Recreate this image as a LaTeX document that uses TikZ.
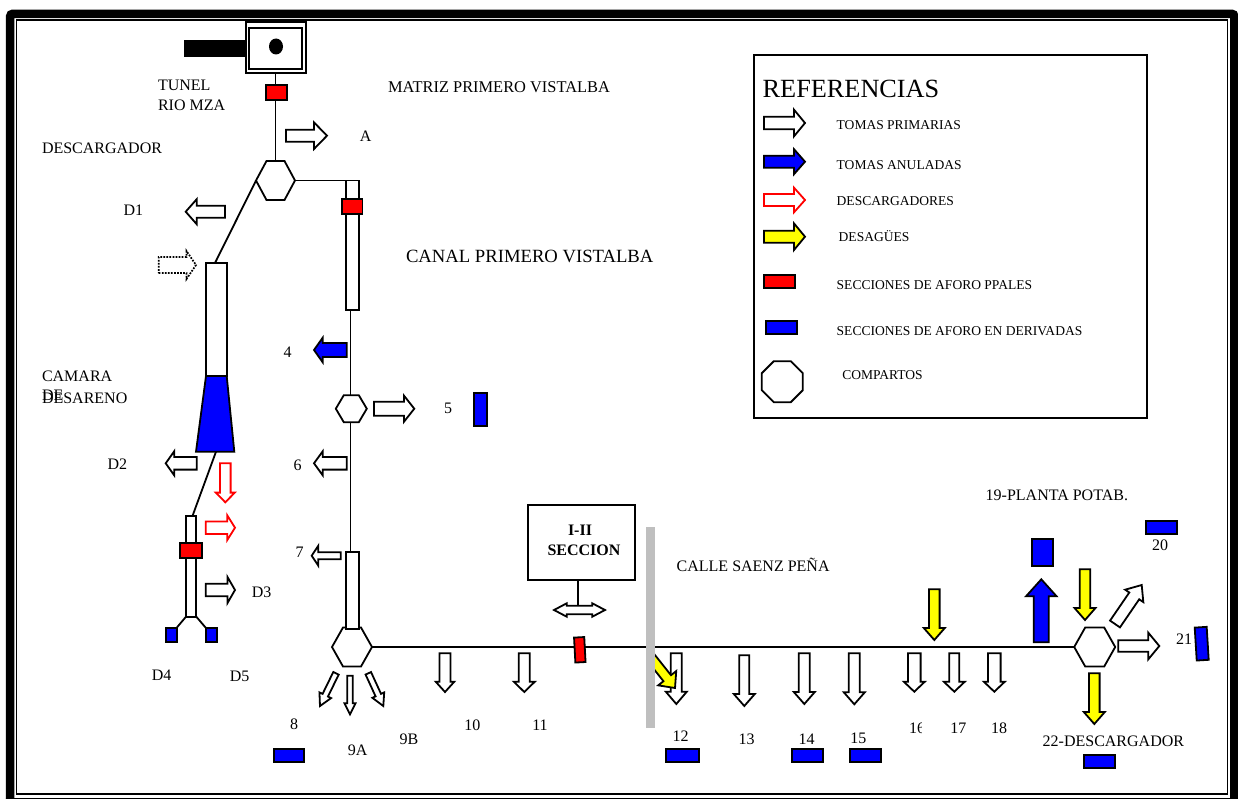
\documentclass[tikz,border=0pt]{standalone}
\usepackage{fontspec}
\usetikzlibrary{shapes.geometric}
\setmainfont{Liberation Serif}
\definecolor{pblue}{HTML}{0000FF}
\definecolor{pred}{HTML}{FF0000}
\definecolor{pyel}{HTML}{FFFF00}
\definecolor{pgrey}{HTML}{BFBFBF}
\tikzset{
  ln/.style={line width=1.35pt,draw=black,line join=miter},
  arw/.style={ln,fill=white},
  arblue/.style={ln,fill=pblue},
  arred/.style={line width=1.35pt,draw=pred,fill=white},
  aryel/.style={ln,fill=pyel},
  ardot/.style={line width=1.3pt,densely dotted,draw=black,fill=white},
  box/.style={ln,fill=white,rectangle,inner sep=0pt,outer sep=0pt},
  secred/.style={box,fill=pred},
  secblue/.style={box,fill=pblue},
  lab/.style={inner sep=0pt,outer sep=0pt,font=\fontsize{12}{12}\selectfont,text height=7.9pt,text depth=0pt},
  labl/.style={lab,anchor=west},
  leg/.style={inner sep=0pt,outer sep=0pt,anchor=west,font=\fontsize{10.15}{10.15}\selectfont,text height=6.6pt,text depth=0pt},
}
% style, x1,y1, x2,y2 (tip), shaft half, head half, head length
\newcommand{\blockarrow}[8]{%
  \pgfmathsetmacro\bL{veclen(#4-#2,#5-#3)}%
  \pgfmathsetmacro\bux{(#4-#2)/\bL}%
  \pgfmathsetmacro\buy{(#5-#3)/\bL}%
  \pgfmathsetmacro\bbx{#4-\bux*#8}%
  \pgfmathsetmacro\bby{#5-\buy*#8}%
  \draw[#1] ({#2-\buy*#6},{#3+\bux*#6}) -- ({\bbx-\buy*#6},{\bby+\bux*#6})
    -- ({\bbx-\buy*#7},{\bby+\bux*#7}) -- (#4,#5)
    -- ({\bbx+\buy*#7},{\bby-\bux*#7}) -- ({\bbx+\buy*#6},{\bby-\bux*#6})
    -- ({#2+\buy*#6},{#3-\bux*#6}) -- cycle;}
% style, name, x1,y1,x2,y2
\newcommand{\rectnode}[6]{%
  \pgfmathsetmacro\rw{(#5-#3)*0.75}%
  \pgfmathsetmacro\rh{(#6-#4)*0.75}%
  \node[#1,minimum width=\rw pt,minimum height=\rh pt] (#2) at ({(#3+#5)/2},{(#4+#6)/2}) {};}
% name, cx,cy, width, height, inset
\newcommand{\hexa}[6]{%
  \pgfmathsetmacro\rw{#4*0.75}%
  \pgfmathsetmacro\rh{#5*0.75}%
  \pgfmathsetmacro\ri{#6*0.75}%
  \node[rectangle,inner sep=0pt,outer sep=0pt,minimum width=\rw pt,minimum height=\rh pt] (#1) at (#2,#3) {};
  \draw[arw] (#1.west) -- ([xshift=\ri pt]#1.north west) -- ([xshift=-\ri pt]#1.north east)
    -- (#1.east) -- ([xshift=-\ri pt]#1.south east) -- ([xshift=\ri pt]#1.south west) -- cycle;}
\begin{document}
\begin{tikzpicture}[x=0.75pt,y=-0.75pt]
\useasboundingbox (0,0) rectangle (1238,799);
% outer frame
\draw[line width=6.4pt,rounded corners=2pt] (10.2,803) -- (10.2,13.8) -- (1234.3,13.8) -- (1234.3,803);
\draw[line width=1.1pt] (5.5,798.5) -- (1238,798.5);
\draw[line width=1.2pt] (16.3,794) -- (16.3,19.8) -- (1227.3,19.8) -- (1227.3,794) -- cycle;

% tunnel
\rectnode{box}{tunnelO}{246}{21.7}{306}{73}
\rectnode{box}{tunnelI}{248.7}{27.7}{302}{69}
\rectnode{box,fill=black}{tunnelBar}{185}{40.7}{246}{56}
\node[ellipse,fill=black,inner sep=0pt,minimum width=10.5pt,minimum height=12pt] (tunnelEye) at (276,46.5) {};

% hexagons
\hexa{hA}{275.5}{180.5}{39}{39}{10.5}
\hexa{hB}{351.3}{408.7}{31}{27}{8}
\hexa{hC}{352}{647}{40}{39}{11}
\hexa{hD}{1094.7}{647}{41}{39}{11}

% connectors
\draw[ln] (tunnelO.south -| hA.north) -- (hA.north);
\coordinate (cTop) at (358.7,180.5);
\draw[ln] (hA.east) -- (cTop);
\coordinate (dTop) at (215,263);
\draw[ln] (hA.west) -- (dTop);
\coordinate (c1b) at (350.5,310);
\coordinate (c2t) at (350.5,551.7);
\draw[ln] (c1b) -- (c1b |- hB.north);
\draw[ln] (c1b |- hB.south) -- (c2t);
\draw[ln] (hC.east) -- (hD.west);

% canal
\rectnode{box}{canalA}{346}{180.5}{358.7}{310}
\rectnode{secred}{secCanal}{342}{199}{362.5}{214}
\rectnode{secred}{secTunnel}{266}{85}{287}{100}
\rectnode{box}{canalB}{346}{551.7}{358.7}{629.3}

% desarenador
\rectnode{box}{desBox}{206}{263}{226.7}{376}
\draw[ln,fill=pblue] (206,376) coordinate (trapA) -- (226.7,376) -- (234.3,451.7) -- (196,451.7) -- cycle;
\coordinate (trapB) at (216,451.7);
\coordinate (sbTop) at (192.6,515.7);
\draw[ln] (trapB) -- (sbTop);
\rectnode{box}{smallBox}{186}{515.7}{196.3}{616.7}
\rectnode{secred}{secDes}{180}{543.3}{202.3}{558}
\rectnode{secblue}{secD4}{165.7}{627.7}{176.7}{642}
\rectnode{secblue}{secD5}{205.7}{627.7}{216.7}{642}
\draw[ln] (smallBox.south west) -- (secD4.north east);
\draw[ln] (smallBox.south east) -- (secD5.north west);

% arrows, upper left
\blockarrow{arw}{286}{135.7}{327}{135.7}{6}{13.3}{13}
\blockarrow{arw}{225}{211.7}{185.7}{211.7}{6}{12.5}{11}
\blockarrow{ardot}{158.7}{265}{196}{265}{8}{14}{9.5}
\blockarrow{arw}{196.7}{463.3}{165.7}{463.3}{6.3}{12}{8.5}
\blockarrow{arred}{225.3}{463.3}{225.3}{502.3}{5.3}{9.5}{9.7}
\blockarrow{arred}{205.7}{527.7}{235}{527.7}{6.3}{12.3}{7.7}
\blockarrow{arw}{205.7}{590}{235}{590}{6.3}{13}{7.5}
% canal arrows
\blockarrow{arblue}{346.7}{350}{314}{350}{7}{12.3}{8.7}
\blockarrow{arw}{374}{408.7}{414.3}{408.7}{7}{13}{10.3}
\blockarrow{arw}{346.7}{463.3}{314}{463.3}{6.3}{12}{8.7}
\blockarrow{arw}{340.7}{555.7}{311.7}{555.7}{3.5}{10}{6.6}
\blockarrow{arw}{336}{673.3}{320}{706}{3}{6.5}{12}
\blockarrow{arw}{350}{675.7}{350}{714.3}{2.7}{5.5}{11}
\blockarrow{arw}{368.3}{673.3}{383.3}{706}{3}{6.5}{12}

% I-II seccion
\node[box,minimum width=80.25pt,minimum height=56pt] (secBox) at (581.2,542.7) {};
\node[lab,font=\fontsize{12}{12}\bfseries\selectfont] (secT1) at (580,530.7) {I-II};
\node[lab,font=\fontsize{12}{12}\bfseries\selectfont] (secT2) at (584,550.7) {SECCION};
\coordinate (dblTop) at (578,605.7);
\draw[ln] (secBox.south -| dblTop) -- (dblTop);
\draw[arw] (554,610) coordinate (dblL) -- (566.7,603.3) -- (566.7,605.7) -- (592.3,605.7) -- (592.3,603.3) -- (605,610) coordinate (dblR)
  -- (592.3,616.7) -- (592.3,614.3) -- (566.7,614.3) -- (566.7,616.7) -- cycle;
\rectnode{secred,rotate=3}{secMain}{574.7}{637.3}{584.9}{662.3}

% down arrows along main line
\blockarrow{arw}{445}{653.3}{445}{692}{5.5}{9.3}{10.3}
\blockarrow{arw}{524.3}{653.3}{524.3}{692}{5.5}{10.5}{10.3}
\blockarrow{arw}{676.3}{653.3}{676.3}{704}{5.5}{10.5}{12.3}
\begin{scope}
\clip (648,640) rectangle (700,720);
\blockarrow{aryel}{645}{650.2}{675}{688}{4.8}{11.5}{12.5}
\end{scope}
\rectnode{rectangle,fill=pgrey,inner sep=0pt,outer sep=0pt}{greyBar}{646}{526.7}{655}{727.7}
\blockarrow{arw}{744.3}{655.3}{744.3}{706}{5}{10.5}{12}
\blockarrow{arw}{804.3}{653.3}{804.3}{704}{5.5}{10.5}{12}
\blockarrow{arw}{854.3}{653.3}{854.3}{704.3}{5.5}{10.5}{12}
\blockarrow{arw}{914.3}{653.3}{914.3}{691.7}{6.3}{10.5}{10}
\blockarrow{arw}{954.3}{653.3}{954.3}{691.7}{5}{10.5}{10}
\blockarrow{arw}{994.3}{653.3}{994.3}{691.7}{6.3}{10.5}{10}
\blockarrow{aryel}{934.3}{589.3}{934.3}{640}{5.3}{10.5}{12}
% right end
\blockarrow{arblue}{1041.3}{642.3}{1041.3}{579.3}{7.5}{15.3}{17}
\blockarrow{aryel}{1085}{569.3}{1085}{620}{5.3}{10.5}{12}
\blockarrow{arw}{1115}{624}{1141.7}{585}{6}{11}{13.2}
\blockarrow{arw}{1118.3}{646}{1159.3}{646}{5.8}{13.3}{11}
\blockarrow{aryel}{1094.3}{673.3}{1094.3}{724}{5.3}{10.5}{12}

% blue sections
\rectnode{secblue}{sec5}{474}{393}{487}{426}
\rectnode{secblue}{sec8}{274}{749.3}{304.3}{762.3}
\rectnode{secblue}{sec12}{666}{749.3}{698.7}{762.3}
\rectnode{secblue}{sec14}{792}{749.3}{822.7}{762.3}
\rectnode{secblue}{sec15}{850}{749.3}{880.7}{762.3}
\rectnode{secblue}{sec19}{1032.3}{539.3}{1052.7}{566}
\rectnode{secblue}{sec20}{1146}{521.3}{1176.7}{534}
\rectnode{secblue,rotate=3.5}{sec21}{1195.7}{627.2}{1207.7}{660.2}
\rectnode{secblue}{sec22}{1084}{755.3}{1115}{768.3}

% labels
\node[labl] (tTunel) at (158,85) {TUNEL};
\node[labl] (tRio) at (158,105) {RIO MZA};
\node[labl,font=\fontsize{12.3}{12.3}\selectfont] (tMatriz) at (388,87) {MATRIZ PRIMERO VISTALBA};
\node[lab] (tA) at (365.7,136.7) {A};
\node[labl] (tDesc) at (42,148.3) {DESCARGADOR};
\node[lab] (tD1) at (133.3,210.7) {D1};
\node[labl,font=\fontsize{14}{14}\selectfont,text height=9.2pt] (tCanal) at (406,256) {CANAL PRIMERO VISTALBA};
\node[labl] (tCam) at (42,376.7) {CAMARA};
\node[labl] (tDe) at (42,395) {DE};
\node[labl] (tDes) at (42,398) {DESARENO};
\node[lab] (tD2) at (117.3,464.7) {D2};
\node[lab] (tD3) at (261.7,592.7) {D3};
\node[lab] (tD4) at (161.7,675) {D4};
\node[lab] (tD5) at (239.7,676.7) {D5};
\node[lab] (t4) at (287.7,352.7) {4};
\node[lab] (t5) at (448,408) {5};
\node[lab] (t6) at (297.7,465) {6};
\node[lab] (t7) at (299.7,552.7) {7};
\node[lab] (t8) at (294,724.3) {8};
\node[lab] (t9A) at (357.7,750.7) {9A};
\node[lab] (t9B) at (409,739) {9B};
\node[lab] (t10) at (472.3,725) {10};
\node[lab] (t11) at (540,725) {11};
\node[lab] (t12) at (680.7,736.7) {12};
\node[lab] (t13) at (746.7,739) {13};
\node[lab] (t14) at (806.7,739) {14};
\node[lab] (t15) at (858.3,738.3) {15};
\begin{scope}
\clip (900,715) rectangle (921.5,745);
\node[lab] (t16) at (917,728.3) {16};
\end{scope}
\node[lab] (t17) at (958.3,728.3) {17};
\node[lab] (t18) at (999,728.3) {18};
\node[labl] (tCalle) at (676.7,566.7) {CALLE SAENZ PEÑA};
\node[labl] (t19) at (985.7,495) {19-PLANTA POTAB.};
\node[lab] (t20) at (1160,545.3) {20};
\node[lab] (t21) at (1184,639.3) {21};
\node[labl] (t22) at (1042.7,741) {22-DESCARGADOR};

% legend
\rectnode{box}{legend}{754}{55}{1146.7}{417.7}
\node[labl,font=\fontsize{19.7}{19.7}\selectfont,text height=13pt] (tRef) at (762.7,89) {REFERENCIAS};
\blockarrow{arw}{764}{123}{805}{123}{6.3}{13.3}{11}
\blockarrow{arblue}{764}{161.7}{805}{161.7}{6}{12.5}{11}
\blockarrow{arred}{764}{200}{805}{200}{6}{12.3}{11}
\blockarrow{aryel}{764}{236.7}{805}{236.7}{6}{13.3}{11}
\rectnode{secred}{legRed}{764}{275.3}{795}{288.3}
\rectnode{secblue}{legBlue}{766}{321}{797}{334.3}
\node[regular polygon,regular polygon sides=8,draw=black,line width=1.35pt,fill=white,inner sep=0pt,minimum size=33.3pt] (legOct) at (782.3,381.7) {};
\node[leg] (l1) at (836.7,125) {TOMAS PRIMARIAS};
\node[leg] (l2) at (836.7,165) {TOMAS ANULADAS};
\node[leg] (l3) at (836.7,201) {DESCARGADORES};
\node[leg] (l4) at (838.7,237.3) {DESAGÜES};
\node[leg] (l5) at (836.7,285) {SECCIONES DE AFORO PPALES};
\node[leg] (l6) at (836.7,331) {SECCIONES DE AFORO EN DERIVADAS};
\node[leg] (l7) at (842.3,375) {COMPARTOS};
\end{tikzpicture}
\end{document}
